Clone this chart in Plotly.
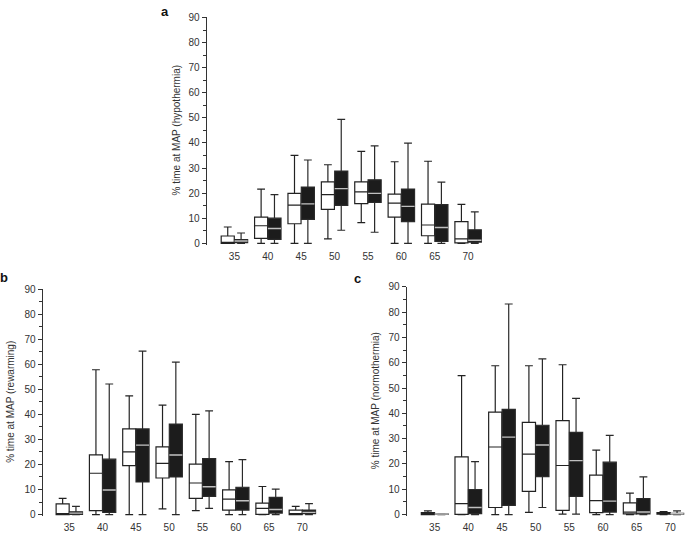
import plotly.graph_objects as go

# ---------------- data ----------------
map_levels = ["35", "40", "45", "50", "55", "60", "65", "70"]
y_ticks = [0, 10, 20, 30, 40, 50, 60, 70, 80, 90]

# Panel a: hypothermia
hypo_open_lo = [0, 0, 0, 1.8, 8.2, 0, 0, 0]
hypo_open_q1 = [0, 2.0, 7.8, 13.5, 15.8, 10.4, 3.0, 0.2]
hypo_open_med = [0.3, 7.0, 15.2, 19.4, 20.5, 16.0, 7.3, 1.8]
hypo_open_q3 = [2.9, 10.4, 19.9, 24.5, 24.5, 19.6, 15.6, 8.6]
hypo_open_hi = [6.5, 21.6, 35.0, 31.3, 36.6, 32.5, 32.7, 15.5]

hypo_fill_lo = [0, 0, 0, 5.2, 4.4, 0, 0, 0]
hypo_fill_q1 = [0.3, 1.6, 9.5, 15.1, 16.3, 8.6, 0.8, 0.5]
hypo_fill_med = [0.9, 5.9, 15.7, 21.8, 19.9, 14.7, 6.3, 1.2]
hypo_fill_q3 = [1.5, 10.0, 22.4, 28.8, 25.3, 21.6, 15.4, 5.4]
hypo_fill_hi = [4.1, 19.4, 33.2, 49.4, 38.8, 39.9, 24.4, 12.5]

# Panel b: rewarming
rew_open_lo = [0, 0, 0, 2.3, 1.6, 0, 0, 0]
rew_open_q1 = [0, 1.6, 19.5, 14.6, 6.5, 1.8, 0.1, 0]
rew_open_med = [0.4, 16.5, 25.0, 20.4, 12.6, 6.2, 2.5, 0.4]
rew_open_q3 = [4.3, 23.8, 34.2, 27.0, 20.1, 9.9, 4.6, 1.8]
rew_open_hi = [6.5, 57.8, 47.4, 43.7, 40.0, 21.1, 11.2, 3.3]

rew_fill_lo = [0, 0, 0, 0, 2.5, 0, 0, 0]
rew_fill_q1 = [0.1, 0.9, 13.0, 15.0, 7.3, 1.8, 0.6, 0.4]
rew_fill_med = [0.6, 9.8, 27.7, 23.8, 11.1, 5.5, 2.0, 0.9]
rew_fill_q3 = [1.1, 22.1, 34.2, 36.1, 22.3, 10.9, 6.9, 1.8]
rew_fill_hi = [3.3, 52.1, 65.2, 60.8, 41.4, 21.9, 10.2, 4.4]

# Panel c: normothermia
norm_open_lo = [0, 0, 0, 0.9, 0.2, 0, 0, 0]
norm_open_q1 = [0, 0.1, 2.8, 9.2, 1.7, 0.8, 0.3, 0.2]
norm_open_med = [0.4, 4.3, 26.7, 23.9, 19.4, 5.5, 1.0, 0.5]
norm_open_q3 = [0.8, 22.8, 40.5, 36.4, 37.1, 15.6, 4.6, 0.8]
norm_open_hi = [1.5, 54.9, 58.8, 58.8, 59.2, 25.5, 8.5, 1.2]

norm_fill_lo = [0, 0, 0, 2.8, 0.2, 0, 0, 0]
norm_fill_q1 = [0.1, 0.4, 3.6, 15.0, 7.2, 1.0, 0.3, 0.2]
norm_fill_med = [0.2, 2.8, 30.6, 27.5, 21.3, 5.3, 1.0, 0.3]
norm_fill_q3 = [0.3, 9.9, 41.6, 35.3, 32.5, 20.7, 6.3, 0.5]
norm_fill_hi = [0.4, 20.9, 83.2, 61.5, 45.9, 31.3, 14.9, 1.5]

panel_titles = ["% time at MAP (hypothermia)", "% time at MAP (rewarming)",
                "% time at MAP (normothermia)"]
panel_letters = ["a", "b", "c"]

# ---------------- layout geometry (pixels) ----------------
W, H = 685, 533
FONT = "Liberation Sans, Arial, sans-serif"
TXT = "#333333"

panels = [
    dict(open=(hypo_open_lo, hypo_open_q1, hypo_open_med, hypo_open_q3, hypo_open_hi),
         fill=(hypo_fill_lo, hypo_fill_q1, hypo_fill_med, hypo_fill_q3, hypo_fill_hi),
         x0=206.7, x1=484.8, xr=[-0.83, 7.5], y0px=242.3, y90px=11.7,
         title_x=176, letter=(164.5, 6)),
    dict(open=(rew_open_lo, rew_open_q1, rew_open_med, rew_open_q3, rew_open_hi),
         fill=(rew_fill_lo, rew_fill_q1, rew_fill_med, rew_fill_q3, rew_fill_hi),
         x0=42.5, x1=319.0, xr=[-0.805, 7.5], y0px=519.3, y90px=289.0,
         title_x=11, letter=(4, 277)),
    dict(open=(norm_open_lo, norm_open_q1, norm_open_med, norm_open_q3, norm_open_hi),
         fill=(norm_fill_lo, norm_fill_q1, norm_fill_med, norm_fill_q3, norm_fill_hi),
         x0=406.7, x1=685.0, xr=[-0.83, 7.436], y0px=519.3, y90px=286.7,
         title_x=375.5, letter=(357, 278)),
]

YMIN = -0.6
fig = go.Figure()
annotations = []

for i, p in enumerate(panels):
    n = "" if i == 0 else str(i + 1)
    xa, ya = "x" + n, "y" + n
    lo, q1, med, q3, hi = p["open"]
    fig.add_trace(go.Box(
        x=map_levels, lowerfence=lo, q1=q1, median=med, q3=q3, upperfence=hi,
        xaxis=xa, yaxis=ya, offsetgroup="open", fillcolor="white",
        line=dict(color="#222222", width=1.2), whiskerwidth=0.6,
        showlegend=False, hoverinfo="skip"))
    lo, q1, med, q3, hi = p["fill"]
    fig.add_trace(go.Box(
        x=map_levels, lowerfence=lo, q1=q1, median=med, q3=q3, upperfence=hi,
        xaxis=xa, yaxis=ya, offsetgroup="fill", fillcolor="#1c1c1c",
        line=dict(color="#2a2a2a", width=1.2), whiskerwidth=0.6,
        showlegend=False, hoverinfo="skip"))
    # light median line drawn over the filled boxes
    fig.add_trace(go.Box(
        x=map_levels, lowerfence=med, q1=med, median=med, q3=med, upperfence=med,
        xaxis=xa, yaxis=ya, offsetgroup="fill", fillcolor="rgba(0,0,0,0)",
        line=dict(color="#c0c0c0", width=1.4), whiskerwidth=0,
        showlegend=False, hoverinfo="skip"))

    ppu = (p["y0px"] - p["y90px"]) / 90.0
    bottom_px = p["y0px"] - YMIN * ppu
    dom_x = [p["x0"] / W, p["x1"] / W]
    dom_y = [1 - bottom_px / H, 1 - p["y90px"] / H]

    fig.layout["xaxis" + n] = dict(
        domain=dom_x, anchor=ya, type="category", range=p["xr"],
        showline=False, showgrid=False, zeroline=False,
        ticks="outside", ticklen=2, tickcolor="rgba(0,0,0,0)",
        tickfont=dict(family=FONT, size=10, color=TXT))
    fig.layout["yaxis" + n] = dict(
        domain=dom_y, anchor=xa, range=[YMIN, 90], tickvals=y_ticks,
        showline=True, linecolor="#333333", linewidth=1,
        showgrid=False, zeroline=False,
        ticks="outside", ticklen=4, tickwidth=1, tickcolor="#333333",
        minor=dict(dtick=5, ticks="outside", ticklen=3, tickwidth=1,
                   tickcolor="#333333", showgrid=False),
        tickfont=dict(family=FONT, size=10, color=TXT))

    annotations.append(dict(
        text=panel_titles[i], textangle=-90, xref="paper", yref="paper",
        x=p["title_x"] / W, y=1 - (p["y0px"] + p["y90px"]) / 2 / H,
        showarrow=False, xanchor="center", yanchor="middle",
        font=dict(family=FONT, size=10, color=TXT)))
    annotations.append(dict(
        text="<b>%s</b>" % panel_letters[i], xref="paper", yref="paper",
        x=p["letter"][0] / W, y=1 - p["letter"][1] / H,
        showarrow=False, xanchor="center", yanchor="middle",
        font=dict(family=FONT, size=13, color="#111111")))

fig.update_layout(
    width=W, height=H, margin=dict(l=0, r=0, t=0, b=0),
    paper_bgcolor="white", plot_bgcolor="white",
    boxmode="group", boxgap=0.2, boxgroupgap=0.02,
    annotations=annotations, showlegend=False)

fig.write_html("out.html", config={"displayModeBar": False},
               post_script="document.body.style.margin='0';")
